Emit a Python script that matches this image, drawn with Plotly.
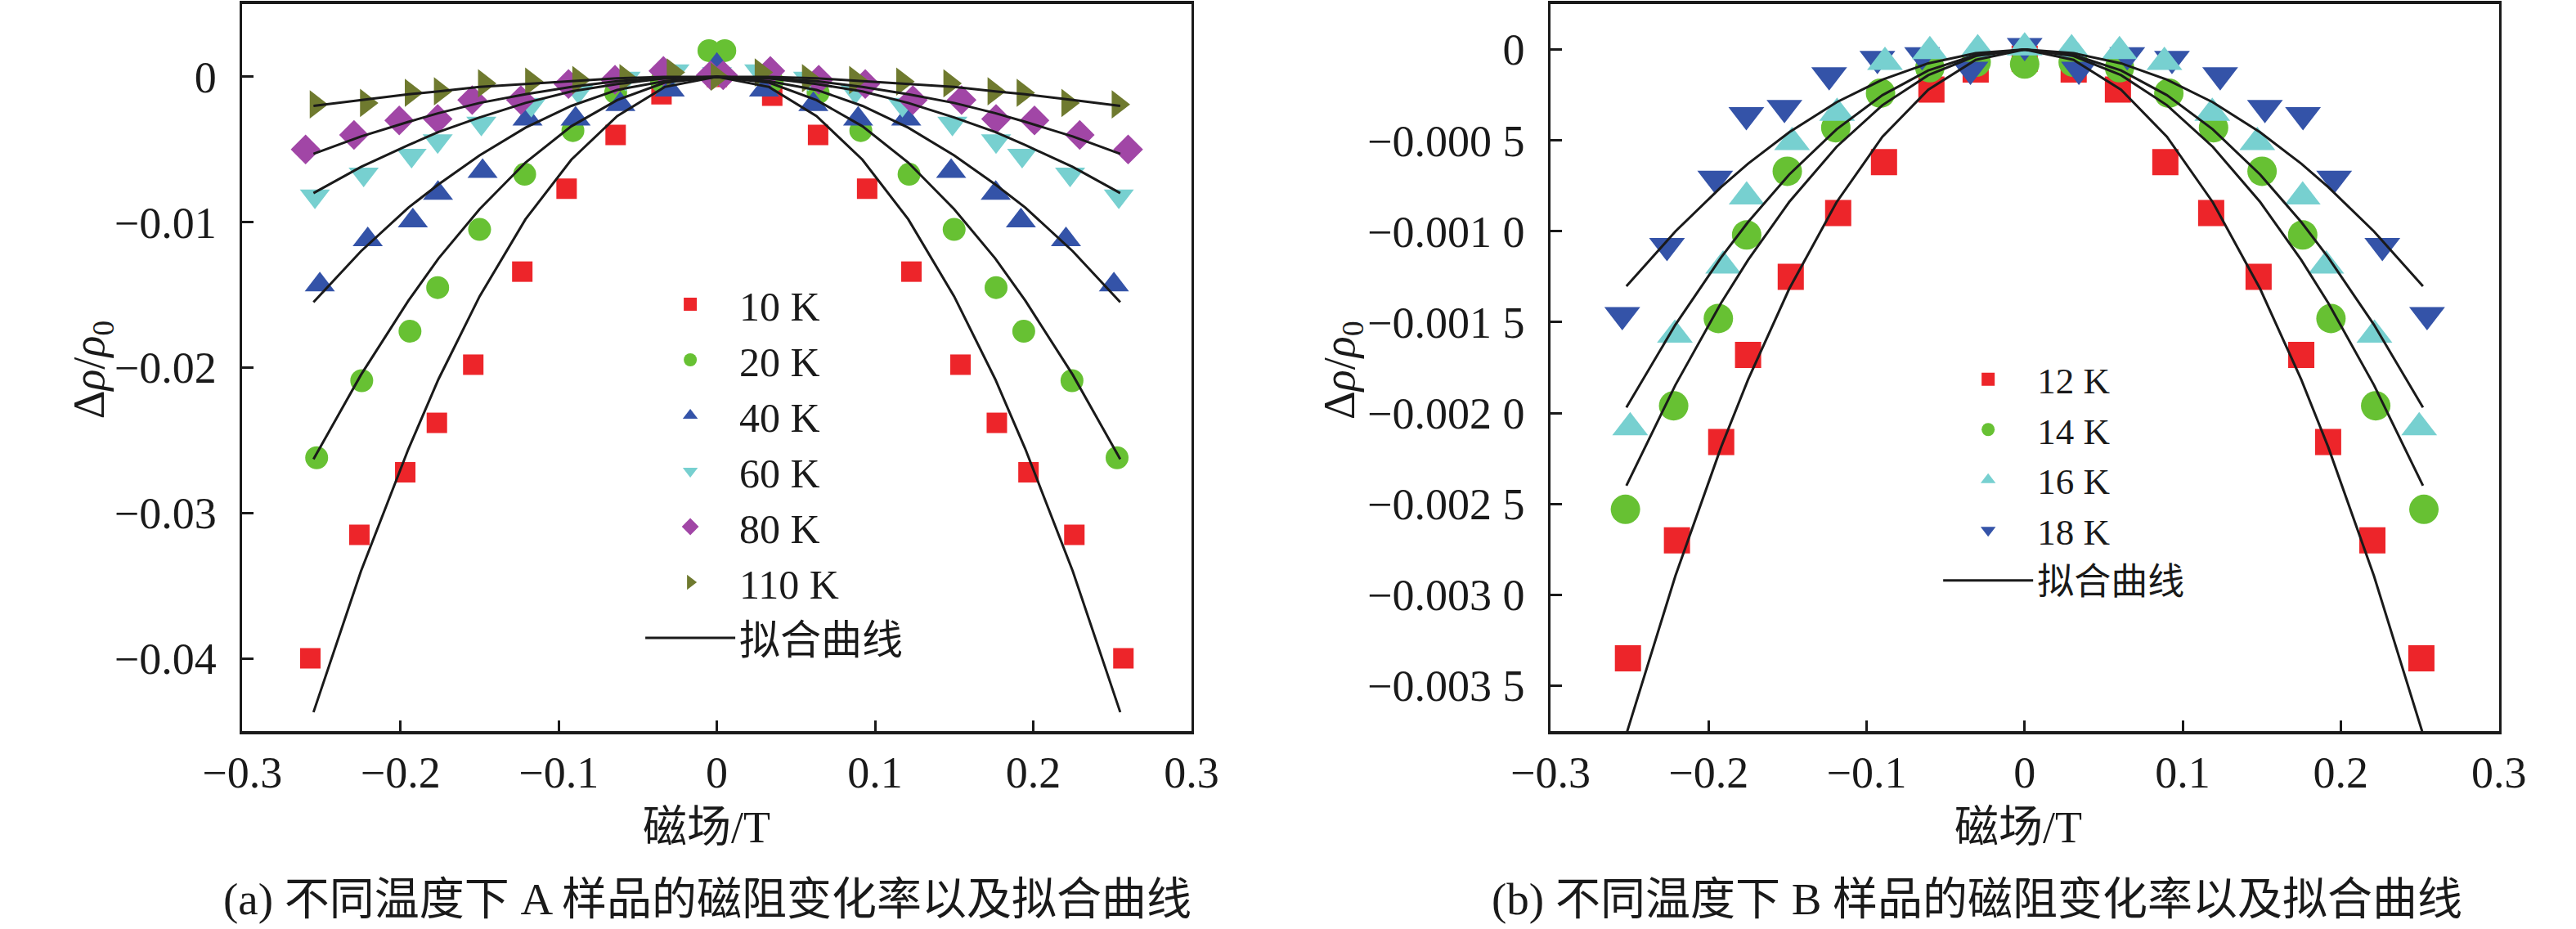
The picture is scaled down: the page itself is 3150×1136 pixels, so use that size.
import plotly.graph_objects as go

# ---- (a) sample A, measured points ----
a_10k_x = [-0.257, -0.226, -0.197, -0.177, -0.154, -0.123, -0.095, -0.064, -0.035, 0.0, 0.035, 0.064, 0.095, 0.123, 0.154, 0.177, 0.197, 0.226, 0.257]
a_10k_y = [-0.0400, -0.0315, -0.0272, -0.0238, -0.0198, -0.0134, -0.0077, -0.0040, -0.0012, 0.0000, -0.0013, -0.0040, -0.0077, -0.0134, -0.0198, -0.0238, -0.0272, -0.0315, -0.0400]

a_20k_x = [-0.253, -0.2245, -0.194, -0.1765, -0.150, -0.1215, -0.091, -0.064, -0.035, -0.005, 0.005, 0.035, 0.064, 0.091, 0.1215, 0.150, 0.1765, 0.194, 0.2245, 0.253]
a_20k_y = [-0.0262, -0.0209, -0.0175, -0.0145, -0.0105, -0.0067, -0.0037, -0.0011, -0.0003, 0.0018, 0.0018, -0.0003, -0.0011, -0.0037, -0.0067, -0.0105, -0.0145, -0.0175, -0.0209, -0.0262]

a_40k_x = [-0.251, -0.2207, -0.1922, -0.1763, -0.1481, -0.1197, -0.0893, -0.061, -0.0298, 0.0, 0.0298, 0.061, 0.0893, 0.1197, 0.1481, 0.1763, 0.1922, 0.2207, 0.251]
a_40k_y = [-0.0143, -0.0112, -0.0099, -0.0080, -0.0065, -0.0029, -0.0029, -0.0019, -0.0009, 0.0008, -0.0009, -0.0019, -0.0029, -0.0029, -0.0065, -0.0080, -0.0099, -0.0112, -0.0143]

a_60k_x = [-0.2541, -0.2233, -0.193, -0.1765, -0.1489, -0.1173, -0.0875, -0.0577, -0.0268, 0.0, 0.0268, 0.0577, 0.0875, 0.1173, 0.1489, 0.1765, 0.193, 0.2233, 0.2541]
a_60k_y = [-0.0082, -0.0067, -0.0054, -0.0044, -0.0032, -0.0019, -0.0010, -0.0001, 0.0004, 0.0002, 0.0004, -0.0001, -0.0010, -0.0019, -0.0032, -0.0044, -0.0054, -0.0067, -0.0082]

a_80k_x = [-0.260, -0.2294, -0.2008, -0.1765, -0.1547, -0.1239, -0.0938, -0.0644, -0.0338, -0.004, 0.004, 0.0338, 0.0644, 0.0938, 0.1239, 0.1547, 0.1765, 0.2008, 0.2294, 0.260]
a_80k_y = [-0.0050, -0.0040, -0.0030, -0.0029, -0.0016, -0.0016, -0.0005, -0.0002, 0.0004, 0.0001, 0.0001, 0.0004, -0.0002, -0.0005, -0.0016, -0.0016, -0.0029, -0.0030, -0.0040, -0.0050]

a_110k_x = [-0.2535, -0.2217, -0.1934, -0.175, -0.1471, -0.1173, -0.0875, -0.0577, -0.0278, 0.0, 0.0278, 0.0577, 0.0875, 0.1173, 0.1471, 0.175, 0.1934, 0.2217, 0.2535]
a_110k_y = [-0.0019, -0.0018, -0.0011, -0.0010, -0.00045, -0.00033, -0.00022, -0.0001, 0.0003, 0.0000, 0.0003, -0.0001, -0.00022, -0.00033, -0.00045, -0.0010, -0.0011, -0.0018, -0.0019]

# ---- (a) fitted curves ----
a_fit_x = [-0.255, -0.225, -0.195, -0.176, -0.150, -0.121, -0.092, -0.063, -0.033, 0.0, 0.033, 0.063, 0.092, 0.121, 0.150, 0.176, 0.195, 0.225, 0.255]
a_fit_10k = [-0.0437, -0.0340, -0.0256, -0.0208, -0.0151, -0.0098, -0.0057, -0.0027, -0.0007, 0.0, -0.0007, -0.0027, -0.0057, -0.0098, -0.0151, -0.0208, -0.0256, -0.0340, -0.0437]
a_fit_20k = [-0.0263, -0.0205, -0.0154, -0.0125, -0.0091, -0.0059, -0.0034, -0.0016, -0.0004, 0.0, -0.0004, -0.0016, -0.0034, -0.0059, -0.0091, -0.0125, -0.0154, -0.0205, -0.0263]
a_fit_40k = [-0.0155, -0.0120, -0.0090, -0.0074, -0.0054, -0.0035, -0.0020, -0.0009, -0.0003, 0.0, -0.0003, -0.0009, -0.0020, -0.0035, -0.0054, -0.0074, -0.0090, -0.0120, -0.0155]
a_fit_60k = [-0.0080, -0.0062, -0.0047, -0.0038, -0.0028, -0.0018, -0.0010, -0.0005, -0.0001, 0.0, -0.0001, -0.0005, -0.0010, -0.0018, -0.0028, -0.0038, -0.0047, -0.0062, -0.0080]
a_fit_80k = [-0.0053, -0.0041, -0.0031, -0.0025, -0.0018, -0.0012, -0.0007, -0.0003, -0.0001, 0.0, -0.0001, -0.0003, -0.0007, -0.0012, -0.0018, -0.0025, -0.0031, -0.0041, -0.0053]
a_fit_110k = [-0.0020, -0.0016, -0.0012, -0.0010, -0.0007, -0.0005, -0.0003, -0.0001, 0.0, 0.0, 0.0, -0.0001, -0.0003, -0.0005, -0.0007, -0.0010, -0.0012, -0.0016, -0.0020]

# ---- (b) sample B, measured points ----
b_12k_x = [-0.251, -0.220, -0.192, -0.175, -0.148, -0.118, -0.089, -0.059, -0.031, 0.0, 0.031, 0.059, 0.089, 0.118, 0.148, 0.175, 0.192, 0.220, 0.251]
b_12k_y = [-0.00335, -0.00270, -0.00216, -0.00168, -0.00125, -0.00090, -0.00062, -0.00022, -0.00011, -0.00005, -0.00011, -0.00022, -0.00062, -0.00090, -0.00125, -0.00168, -0.00216, -0.00270, -0.00335]

b_14k_x = [-0.2526, -0.2221, -0.1938, -0.1759, -0.1502, -0.1195, -0.0912, -0.060, -0.0307, 0.0, 0.0307, 0.060, 0.0912, 0.1195, 0.1502, 0.1759, 0.1938, 0.2221, 0.2526]
b_14k_y = [-0.00253, -0.00196, -0.00148, -0.00102, -0.00067, -0.00043, -0.00024, -0.00010, -0.00007, -0.00008, -0.00007, -0.00010, -0.00024, -0.00043, -0.00067, -0.00102, -0.00148, -0.00196, -0.00253]

b_16k_x = [-0.2496, -0.2213, -0.1908, -0.1759, -0.1472, -0.1187, -0.0884, -0.060, -0.0297, 0.0, 0.0297, 0.060, 0.0884, 0.1187, 0.1472, 0.1759, 0.1908, 0.2213, 0.2496]
b_16k_y = [-0.00208, -0.00157, -0.00119, -0.00081, -0.00051, -0.00035, -0.00007, -0.00001, 0.00000, 0.00001, 0.00000, -0.00001, -0.00007, -0.00035, -0.00051, -0.00081, -0.00119, -0.00157, -0.00208]

b_18k_x = [-0.2546, -0.2263, -0.1958, -0.1761, -0.152, -0.1237, -0.0932, -0.0649, -0.0343, 0.0, 0.0343, 0.0649, 0.0932, 0.1237, 0.152, 0.1761, 0.1958, 0.2263, 0.2546]
b_18k_y = [-0.00146, -0.00108, -0.00071, -0.00036, -0.00032, -0.00014, -0.00005, -0.00003, -0.00011, 0.00002, -0.00011, -0.00003, -0.00005, -0.00014, -0.00032, -0.00036, -0.00071, -0.00108, -0.00146]

# ---- (b) fitted curves ----
b_fit_x = [-0.252, -0.221, -0.192, -0.175, -0.149, -0.119, -0.090, -0.061, -0.031, 0.0, 0.031, 0.061, 0.090, 0.119, 0.149, 0.175, 0.192, 0.221, 0.252]
b_fit_12k = [-0.003766, -0.002896, -0.002186, -0.001816, -0.001317, -0.000840, -0.000480, -0.000221, -0.000057, 0.0, -0.000057, -0.000221, -0.000480, -0.000840, -0.001317, -0.001816, -0.002186, -0.002896, -0.003766]
b_fit_14k = [-0.002400, -0.001846, -0.001393, -0.001158, -0.000839, -0.000535, -0.000306, -0.000141, -0.000036, 0.0, -0.000036, -0.000141, -0.000306, -0.000535, -0.000839, -0.001158, -0.001393, -0.001846, -0.002400]
b_fit_16k = [-0.001969, -0.001514, -0.001143, -0.000949, -0.000688, -0.000439, -0.000251, -0.000115, -0.000030, 0.0, -0.000030, -0.000115, -0.000251, -0.000439, -0.000688, -0.000949, -0.001143, -0.001514, -0.001969]
b_fit_18k = [-0.001302, -0.001001, -0.000756, -0.000628, -0.000455, -0.000290, -0.000166, -0.000076, -0.000020, 0.0, -0.000020, -0.000076, -0.000166, -0.000290, -0.000455, -0.000628, -0.000756, -0.001001, -0.001302]

# ---- ticks ----
x_ticks = [-0.3, -0.2, -0.1, 0, 0.1, 0.2, 0.3]
x_ticktext = ["−0.3", "−0.2", "−0.1", "0", "0.1", "0.2", "0.3"]
a_yticks = [0, -0.01, -0.02, -0.03, -0.04]
a_ytext = ["0", "−0.01", "−0.02", "−0.03", "−0.04"]
b_yticks = [0, -0.0005, -0.001, -0.0015, -0.002, -0.0025, -0.003, -0.0035]
b_ytext = ["0", "−0.000 5", "−0.001 0", "−0.001 5", "−0.002 0", "−0.002 5", "−0.003 0", "−0.003 5"]

RED = "#ED252A"
GREEN = "#67C133"
BLUE = "#3453A8"
CYAN = "#77D0D0"
PURPLE = "#A146A6"
OLIVE = "#6F7A2F"
INK = "#1a1a1a"
FONT = "Liberation Serif, Times New Roman, Noto Sans CJK SC"
FS = 54

W, H = 3150, 1136

fig = go.Figure()

a_series = [
    ("10 K", a_10k_x, a_10k_y, "square", RED, 25),
    ("20 K", a_20k_x, a_20k_y, "circle", GREEN, 28),
    ("40 K", a_40k_x, a_40k_y, "triangle-up", BLUE, 32),
    ("60 K", a_60k_x, a_60k_y, "triangle-down", CYAN, 32),
    ("80 K", a_80k_x, a_80k_y, "diamond", PURPLE, 28),
    ("110 K", a_110k_x, a_110k_y, "triangle-right", OLIVE, 30),
]
for name, xs, ys, sym, col, sz in a_series:
    fig.add_trace(go.Scatter(x=xs, y=ys, mode="markers", name=name,
                             marker=dict(symbol=sym, color=col, size=sz, line=dict(width=0)),
                             xaxis="x", yaxis="y", legend="legend"))

for i, ys in enumerate([a_fit_10k, a_fit_20k, a_fit_40k, a_fit_60k, a_fit_80k, a_fit_110k]):
    fig.add_trace(go.Scatter(x=a_fit_x, y=ys, mode="lines", name="拟合曲线",
                             line=dict(color=INK, width=3),
                             showlegend=(i == 0), xaxis="x", yaxis="y", legend="legend"))

# cyan drawn over blue in (b), legend order kept by rank
b_series = [
    ("12 K", b_12k_x, b_12k_y, "square", RED, 32, 1),
    ("14 K", b_14k_x, b_14k_y, "circle", GREEN, 36, 2),
    ("18 K", b_18k_x, b_18k_y, "triangle-down", BLUE, 38, 4),
    ("16 K", b_16k_x, b_16k_y, "triangle-up", CYAN, 38, 3),
]
for name, xs, ys, sym, col, sz, rank in b_series:
    fig.add_trace(go.Scatter(x=xs, y=ys, mode="markers", name=name, legendrank=rank,
                             marker=dict(symbol=sym, color=col, size=sz, line=dict(width=0)),
                             xaxis="x2", yaxis="y2", legend="legend2"))

for i, ys in enumerate([b_fit_12k, b_fit_14k, b_fit_16k, b_fit_18k]):
    fig.add_trace(go.Scatter(x=b_fit_x, y=ys, mode="lines", name="拟合曲线", legendrank=5,
                             line=dict(color=INK, width=3),
                             showlegend=(i == 0), xaxis="x2", yaxis="y2", legend="legend2"))

xax = dict(range=[-0.3, 0.3], tickvals=x_ticks, ticktext=x_ticktext, ticks="inside",
           ticklen=13, tickwidth=2.5, tickcolor=INK, showline=True, linewidth=4,
           linecolor=INK, mirror=True, showgrid=False, zeroline=False,
           tickfont=dict(family=FONT, size=FS, color=INK))
yax = dict(ticks="inside", ticklen=14, tickwidth=2.5, tickcolor=INK, showline=True,
           linewidth=2.5, linecolor=INK, mirror=True, showgrid=False, zeroline=False,
           ticklabelstandoff=18, tickfont=dict(family=FONT, size=FS, color=INK))

leg = dict(bgcolor="rgba(0,0,0,0)", itemwidth=110, tracegroupgap=0,
           xanchor="left", yanchor="top")

fig.update_layout(
    width=W, height=H,
    margin=dict(l=0, r=0, t=0, b=0),
    plot_bgcolor="white", paper_bgcolor="white",
    xaxis=dict(xax, domain=[254 / W, 1446 / W], anchor="y"),
    yaxis=dict(yax, domain=[1 - 894 / H, 1 - 5 / H], range=[-0.045, 0.005],
               tickvals=a_yticks, ticktext=a_ytext, anchor="x"),
    xaxis2=dict(xax, domain=[1897 / W, 3088 / W], anchor="y2"),
    yaxis2=dict(yax, domain=[1 - 894 / H, 1 - 5 / H], range=[-0.00375, 0.00025],
                tickvals=b_yticks, ticktext=b_ytext, anchor="x2"),
    legend=dict(leg, x=755 / W, y=1 - 333 / H,
                font=dict(family=FONT, size=50, color=INK)),
    legend2=dict(leg, x=2385 / W, y=1 - 428 / H,
                 font=dict(family=FONT, size=45, color=INK)),
)

ytitle = "Δ<i>ρ</i>/<i>ρ</i><sub>0</sub>"
notes = [
    (65 / W, 1 - 452 / H, ytitle, -90, FS),
    (1635 / W, 1 - 452 / H, ytitle, -90, FS),
    (837 / W, 1 - 1012 / H, "磁场/T", 0, FS),
    (2484 / W, 1 - 1012 / H, "磁场/T", 0, FS),
    (838 / W, 1 - 1099 / H, "(a) 不同温度下 A 样品的磁阻变化率以及拟合曲线", 0, 55),
    (2433 / W, 1 - 1099 / H, "(b) 不同温度下 B 样品的磁阻变化率以及拟合曲线", 0, 55),
]
for x, y, txt, ang, fs in notes:
    fig.add_annotation(x=x, y=y, xref="paper", yref="paper", text=txt, textangle=ang,
                       showarrow=False, xanchor="center", yanchor="middle",
                       font=dict(family=FONT, size=fs, color=INK))

fig.write_html("out.html", config={"displayModeBar": False},
               post_script="document.body.style.margin = '0';")
